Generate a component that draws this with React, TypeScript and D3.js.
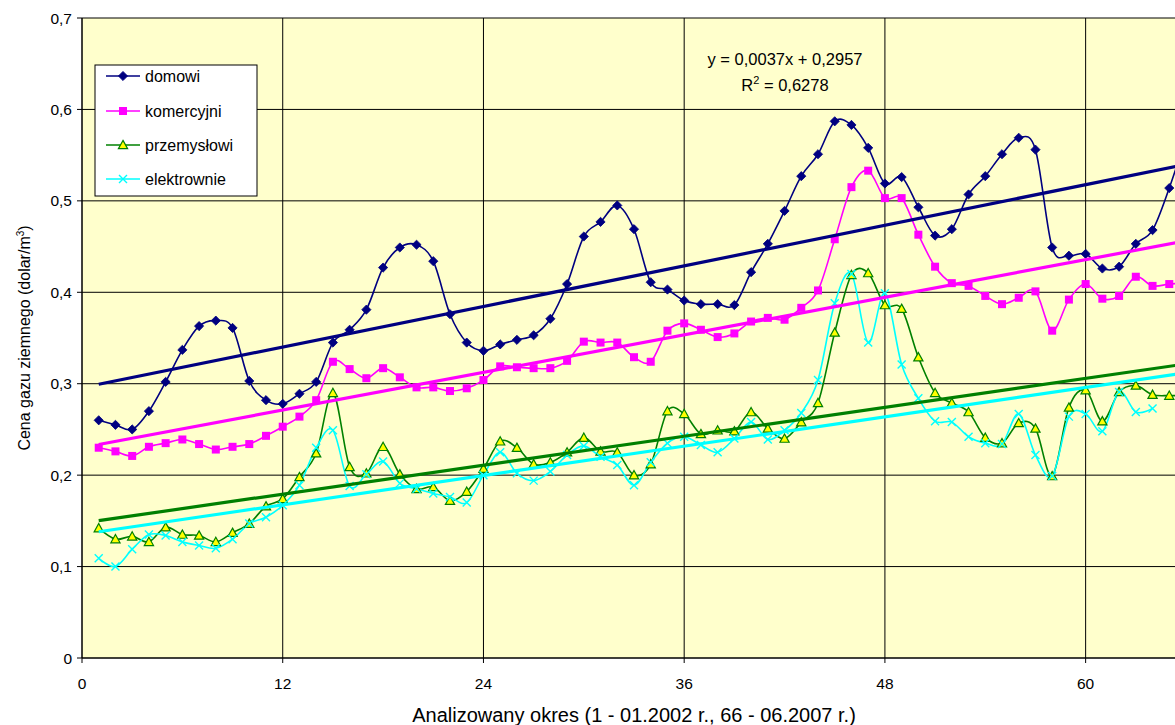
import React from "react";
import * as d3 from "d3";

// Monthly natural gas prices, periods 1 (01.2002) .. 66 (06.2007)
const domowi = [
  0.260, 0.255, 0.250, 0.270, 0.302, 0.337, 0.363, 0.369, 0.361, 0.303,
  0.282, 0.278, 0.289, 0.302, 0.345, 0.359, 0.381, 0.427, 0.449, 0.452,
  0.434, 0.376, 0.345, 0.336, 0.343, 0.348, 0.353, 0.371, 0.409, 0.461,
  0.477, 0.495, 0.469, 0.411, 0.403, 0.391, 0.387, 0.387, 0.386, 0.422,
  0.453, 0.489, 0.527, 0.551, 0.587, 0.583, 0.558, 0.519, 0.526, 0.493,
  0.462, 0.469, 0.507, 0.527, 0.551, 0.569, 0.556, 0.449, 0.440, 0.442,
  0.426, 0.428, 0.453, 0.468, 0.514, 0.570,
];
const komercyjni = [
  0.230, 0.226, 0.221, 0.231, 0.235, 0.239, 0.234, 0.228, 0.231, 0.234,
  0.243, 0.253, 0.264, 0.282, 0.324, 0.316, 0.306, 0.317, 0.307, 0.296,
  0.296, 0.292, 0.295, 0.304, 0.319, 0.318, 0.317, 0.317, 0.325, 0.346,
  0.345, 0.345, 0.329, 0.324, 0.358, 0.366, 0.359, 0.351, 0.355, 0.368,
  0.372, 0.370, 0.383, 0.402, 0.458, 0.515, 0.533, 0.503, 0.503, 0.463,
  0.428, 0.410, 0.407, 0.396, 0.387, 0.394, 0.401, 0.358, 0.392, 0.409,
  0.393, 0.396, 0.417, 0.407, 0.409, 0.410,
];
const przemyslowi = [
  0.142, 0.130, 0.133, 0.127, 0.143, 0.135, 0.134, 0.127, 0.137, 0.147,
  0.166, 0.174, 0.198, 0.224, 0.290, 0.209, 0.202, 0.231, 0.201, 0.185,
  0.187, 0.172, 0.182, 0.207, 0.237, 0.230, 0.212, 0.214, 0.225, 0.241,
  0.226, 0.225, 0.200, 0.212, 0.270, 0.267, 0.245, 0.249, 0.248, 0.269,
  0.251, 0.240, 0.258, 0.279, 0.356, 0.419, 0.421, 0.386, 0.382, 0.329,
  0.290, 0.279, 0.269, 0.241, 0.235, 0.257, 0.251, 0.199, 0.274, 0.293,
  0.259, 0.291, 0.298, 0.288, 0.287, 0.287,
];
const elektrownie = [
  0.109, 0.100, 0.119, 0.135, 0.134, 0.127, 0.123, 0.120, 0.130, 0.147,
  0.154, 0.167, 0.189, 0.230, 0.249, 0.188, 0.201, 0.215, 0.191, 0.185,
  0.180, 0.176, 0.170, 0.200, 0.225, 0.202, 0.194, 0.204, 0.222, 0.232,
  0.220, 0.211, 0.189, 0.214, 0.235, 0.242, 0.233, 0.225, 0.240, 0.258,
  0.239, 0.249, 0.268, 0.304, 0.388, 0.420, 0.345, 0.399, 0.321, 0.284,
  0.259, 0.258, 0.242, 0.235, 0.234, 0.267, 0.222, 0.199, 0.264, 0.267,
  0.248, 0.291, 0.269, 0.273,
];

const seriesNames = ["domowi", "komercyjni", "przemysłowi", "elektrownie"];
const seriesColors = ["#000080", "#FF00FF", "#008000", "#00FFFF"];
const xTicks = [0, 12, 24, 36, 48, 60];
const yTicks = [0, 0.1, 0.2, 0.3, 0.4, 0.5, 0.6, 0.7];

// Trend line of the domowi series as reported on the chart
const domowiSlope = 0.0037;
const domowiIntercept = 0.2957;
const domowiR2 = "0,6278";

const W = 1175;
const H = 725;
const margin = { left: 82, top: 18, right: 1186, bottom: 658 };
const FONT = "'Liberation Sans', Arial, sans-serif";

function fitLine(values: number[]) {
  const xs = values.map((_, i) => i + 1);
  const mx = d3.mean(xs) as number;
  const my = d3.mean(values) as number;
  let num = 0;
  let den = 0;
  xs.forEach((x, i) => {
    num += (x - mx) * (values[i] - my);
    den += (x - mx) * (x - mx);
  });
  const slope = num / den;
  return { slope, intercept: my - slope * mx };
}

function Marker({ kind, x, y, color }: { kind: number; x: number; y: number; color: string }) {
  if (kind === 0) {
    const r = 4.6;
    return (
      <path
        d={`M${x},${y - r}L${x + r},${y}L${x},${y + r}L${x - r},${y}Z`}
        fill={color}
        stroke={color}
        strokeWidth={0.8}
      />
    );
  }
  if (kind === 1) {
    const s = 8;
    return <rect x={x - s / 2} y={y - s / 2} width={s} height={s} fill={color} />;
  }
  if (kind === 2) {
    const r = 4.6;
    return (
      <path
        d={`M${x},${y - r}L${x + r},${y + r * 0.8}L${x - r},${y + r * 0.8}Z`}
        fill="#FFFF00"
        stroke={color}
        strokeWidth={1.2}
      />
    );
  }
  const r = 4;
  return (
    <path
      d={`M${x - r},${y - r}L${x + r},${y + r}M${x - r},${y + r}L${x + r},${y - r}`}
      stroke={color}
      strokeWidth={1.4}
      fill="none"
    />
  );
}

export default function App() {
  const x = d3.scaleLinear().domain([0, 66]).range([margin.left, margin.right]);
  const y = d3.scaleLinear().domain([0, 0.7]).range([margin.bottom, margin.top]);

  const all = [domowi, komercyjni, przemyslowi, elektrownie];
  const trends = [
    { slope: domowiSlope, intercept: domowiIntercept },
    fitLine(komercyjni),
    fitLine(przemyslowi),
    fitLine(elektrownie),
  ];

  const line = d3
    .line<number>()
    .x((_, i) => x(i + 1))
    .y((d) => y(d))
    .curve(d3.curveCatmullRom.alpha(0));

  const legendX = 95;
  const legendY = 65;
  const legendRows = [76, 111, 145, 179];

  return (
    <svg
      width={W}
      height={H}
      style={{ position: "fixed", left: 0, top: 0, background: "#fff" }}
      fontFamily={FONT}
    >
      <rect x={0} y={0} width={W} height={H} fill="#fff" />
      <rect
        x={margin.left}
        y={margin.top}
        width={margin.right - margin.left}
        height={margin.bottom - margin.top}
        fill="#FFFFCC"
      />
      {/* grid */}
      {yTicks.map((t) => (
        <line key={"gy" + t} x1={margin.left} x2={margin.right} y1={y(t)} y2={y(t)} stroke="#000" strokeWidth={1} />
      ))}
      {xTicks.map((t) => (
        <line key={"gx" + t} x1={x(t)} x2={x(t)} y1={margin.top} y2={margin.bottom} stroke="#000" strokeWidth={1} />
      ))}
      {/* axes */}
      <line x1={margin.left} x2={margin.left} y1={margin.top} y2={margin.bottom} stroke="#000" strokeWidth={1} />
      <line x1={margin.left} x2={margin.right} y1={margin.bottom} y2={margin.bottom} stroke="#000" strokeWidth={1} />
      {yTicks.map((t) => (
        <g key={"ty" + t}>
          <line x1={margin.left - 5} x2={margin.left} y1={y(t)} y2={y(t)} stroke="#000" />
          <text x={margin.left - 10} y={y(t) + 5.5} textAnchor="end" fontSize={15.5}>
            {t === 0 ? "0" : d3.format(".1f")(t).replace(".", ",")}
          </text>
        </g>
      ))}
      {xTicks.map((t) => (
        <g key={"tx" + t}>
          <line x1={x(t)} x2={x(t)} y1={margin.bottom} y2={margin.bottom + 5} stroke="#000" />
          <text x={x(t)} y={margin.bottom + 31} textAnchor="middle" fontSize={15.5}>
            {t}
          </text>
        </g>
      ))}

      {/* series */}
      {all.map((vals, si) => (
        <path key={"s" + si} d={line(vals) || ""} fill="none" stroke={seriesColors[si]} strokeWidth={1.6} />
      ))}
      {all.map((vals, si) => (
        <g key={"m" + si}>
          {vals.map((v, i) => (
            <Marker key={i} kind={si} x={x(i + 1)} y={y(v)} color={seriesColors[si]} />
          ))}
        </g>
      ))}

      {/* linear trends */}
      {trends.map((tr, si) => (
        <line
          key={"tr" + si}
          x1={x(1)}
          x2={x(66)}
          y1={y(tr.slope * 1 + tr.intercept)}
          y2={y(tr.slope * 66 + tr.intercept)}
          stroke={seriesColors[si]}
          strokeWidth={3.2}
        />
      ))}

      {/* trend equation */}
      <text x={785} y={65} textAnchor="middle" fontSize={16.5}>
        {`y = ${String(domowiSlope).replace(".", ",")}x + ${String(domowiIntercept).replace(".", ",")}`}
      </text>
      <text x={785} y={91} textAnchor="middle" fontSize={16.5}>
        R<tspan dy={-7} fontSize={11}>2</tspan>
        <tspan dy={7}>{` = ${domowiR2}`}</tspan>
      </text>

      {/* legend */}
      <rect x={legendX} y={legendY} width={162} height={131} fill="#fff" stroke="#000" strokeWidth={1} />
      {seriesNames.map((name, si) => (
        <g key={"lg" + si}>
          <line x1={106} x2={140} y1={legendRows[si]} y2={legendRows[si]} stroke={seriesColors[si]} strokeWidth={1.6} />
          <Marker kind={si} x={123} y={legendRows[si]} color={seriesColors[si]} />
          <text x={145} y={legendRows[si] + 5.5} fontSize={16}>
            {name}
          </text>
        </g>
      ))}

      {/* axis titles */}
      <text
        transform={`translate(30,${(margin.top + margin.bottom) / 2}) rotate(-90)`}
        textAnchor="middle"
        fontSize={16}
      >
        Cena gazu ziemnego (dolar/m<tspan dy={-6} fontSize={10}>3</tspan>
        <tspan dy={6}>)</tspan>
      </text>
      <text x={(margin.left + margin.right) / 2} y={722} textAnchor="middle" fontSize={20}>
        Analizowany okres (1 - 01.2002 r., 66 - 06.2007 r.)
      </text>
    </svg>
  );
}
